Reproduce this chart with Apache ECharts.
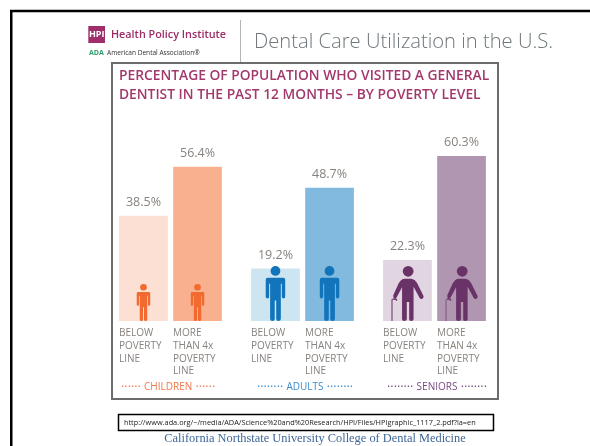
<!DOCTYPE html>
<html>
<head>
<meta charset="utf-8">
<style>html,body{margin:0;padding:0;background:#fff}#c{width:590px;height:446px}</style>
<script src="https://cdn.jsdelivr.net/npm/echarts@6/dist/echarts.min.js"></script>
</head>
<body>
<div id="c"></div>
<script>
var groups = ['CHILDREN', 'ADULTS', 'SENIORS'];
var belowValues = [38.5, 19.2, 22.3];
var moreValues = [56.4, 48.7, 60.3];
var belowLines = ['BELOW', 'POVERTY', 'LINE', ' '];
var moreLines = ['MORE', 'THAN 4x', 'POVERTY', 'LINE'];
var dotCounts = [6, 8, 8];
var belowColors = ['#fbe0d3', '#cde4f1', '#e0d5e0'];
var moreColors = ['#f9b08f', '#82b9de', '#b096b0'];
var iconColors = ['#f26a30', '#1275bb', '#6a3368'];
var groupColors = ['#f4774a', '#3d8bcb', '#7a4a85'];
var chartTitle = 'PERCENTAGE OF POPULATION WHO VISITED A GENERAL\nDENTIST IN THE PAST 12 MONTHS – BY POVERTY LEVEL';
var pageTitle = 'Dental Care Utilization in the U.S.';
var sourceUrl = 'http://www.ada.org/~/media/ADA/Science%20and%20Research/HPI/Files/HPIgraphic_1117_2.pdf?la=en';
var footer = 'California Northstate University College of Dental Medicine';

var personPath = 'path://M30 10A10 10 0 1 1 10 10A10 10 0 1 1 30 10ZM4 24H36Q40 24 40 28V62Q40 66 36.5 66Q33 66 33 62V36H31V108Q31 112 26 112Q21.5 112 21.5 108V70H18.5V108Q18.5 112 14 112Q9 112 9 108V36H7V62Q7 66 3.5 66Q0 66 0 62V28Q0 24 4 24Z';
var seniorPath = 'path://M66 16A16 16 0 1 1 34 16A16 16 0 1 1 66 16ZM38 38Q28 40 22 52L6 88Q4 95 10 97Q15 98 17 92L32 64V160Q32 165 38.5 165Q46 165 46 160V108H53V160Q53 165 59 165Q66 165 66 160V62L84 96Q87 100 92 98Q98 94 95 89L76 50Q70 40 60 38ZM0 165H4.5V105Q4.5 101 7 101H10Q14 101 15 104H18Q18 98 13 97H8Q0 97 0 104Z';
var iconSymbols = [personPath, personPath, seniorPath];
var iconSizes = [[13.5, 37], [19.5, 55], [32.5, 55]];
var caneColor = '#8f6a93';

var barW = 48.7, gapPct = '11%';

function iconFill(i) {
  if (i !== 2) return iconColors[i];
  return new echarts.graphic.LinearGradient(0, 0, 1, 0, [
    { offset: 0, color: caneColor }, { offset: 0.055, color: caneColor },
    { offset: 0.055, color: iconColors[i] }, { offset: 1, color: iconColors[i] }
  ]);
}
function iconData(values) {
  return values.map(function (v, i) {
    return { value: v, symbol: iconSymbols[i], symbolSize: iconSizes[i], itemStyle: { color: iconFill(i) } };
  });
}
function barData(values, colors) {
  return values.map(function (v, i) { return { value: v, itemStyle: { color: colors[i] } }; });
}
function dots(n) { return new Array(n + 1).join('·'); }

var rich = {
  a: { width: 54, align: 'left', fontSize: 10, color: '#87827e', lineHeight: 12.7, fontFamily: 'Open Sans' },
  b: { width: 54, align: 'left', fontSize: 10, color: '#87827e', lineHeight: 12.7, fontFamily: 'Open Sans' }
};
groups.forEach(function (g, i) {
  rich['g' + i] = { fontSize: 10, color: groupColors[i], lineHeight: 19, fontFamily: 'Open Sans' };
  rich['d' + i] = { fontSize: 12.5, color: groupColors[i], lineHeight: 19, fontFamily: 'Open Sans' };
});

function valueLabel() {
  return { show: true, position: 'top', distance: 7, formatter: function (p) { return p.value.toFixed(1) + '%'; },
    fontSize: 12.5, color: '#87827e', fontFamily: 'Open Sans' };
}

var option = {
  animation: false,
  backgroundColor: '#fff',
  title: [{
    text: chartTitle, left: 114, top: 62,
    textStyle: { fontSize: 13.8, lineHeight: 18.5, fontWeight: 600, color: '#a3386c', fontFamily: 'Open Sans' }
  }],
  grid: { left: 104.5, width: 396, top: 129.5, height: 191.5, containLabel: false },
  xAxis: {
    type: 'category', data: groups,
    axisLine: { show: false }, axisTick: { show: false },
    axisLabel: {
      interval: 0, margin: 6, padding: [0, 0, 0, 5], rich: rich,
      formatter: function (g, idx) {
        var rows = belowLines.map(function (l, r) { return '{a|' + l + '}{b|' + moreLines[r] + '}'; });
        var d = dots(dotCounts[idx]);
        var tail = idx === 0 ? '\u00a0\u00a0\u00a0' : '';
        rows.push('{d' + idx + '|' + d + ' }{g' + idx + '|' + g + '}{d' + idx + '| ' + d + tail + '}');
        return rows.join('\n');
      }
    }
  },
  yAxis: { type: 'value', min: 0, max: 70, show: false },
  series: [
    { name: 'Below poverty line', type: 'bar', barWidth: barW, barGap: gapPct, data: barData(belowValues, belowColors), label: valueLabel() },
    { name: 'More than 4x poverty line', type: 'bar', barWidth: barW, barGap: gapPct, data: barData(moreValues, moreColors), label: valueLabel() },
    { name: 'Below icon', type: 'pictorialBar', barWidth: barW, barGap: gapPct, symbolPosition: 'start', silent: true, z: 5, data: iconData(belowValues) },
    { name: 'More icon', type: 'pictorialBar', barWidth: barW, barGap: gapPct, symbolPosition: 'start', silent: true, z: 5, data: iconData(moreValues) }
  ],
  graphic: [
    { type: 'rect', shape: { x: 11.25, y: 11, width: 600, height: 460 }, style: { fill: 'none', stroke: '#000', lineWidth: 2.5 } },
    { type: 'line', shape: { x1: 240.5, y1: 20, x2: 240.5, y2: 63 }, style: { stroke: '#b5b5b5', lineWidth: 1 } },
    { type: 'rect', shape: { x: 112, y: 63, width: 386, height: 336 }, style: { fill: 'none', stroke: '#6c6c6c', lineWidth: 2 } },
    { type: 'rect', shape: { x: 88.3, y: 26, width: 16.7, height: 17 }, style: { fill: '#9e2f6a' } },
    { type: 'text', x: 96.7, y: 34.5, style: { text: 'HPI', fill: '#fff', font: 'bold 9px "Open Sans"', align: 'center', verticalAlign: 'middle' } },
    { type: 'text', x: 111, y: 35, style: { text: 'Health Policy Institute', fill: '#9b2c66', font: '600 10.8px "Open Sans"', verticalAlign: 'middle' } },
    { type: 'text', x: 89, y: 53, style: { text: 'ADA', fill: '#2e9e6b', font: 'bold 7px "Open Sans"', verticalAlign: 'middle' } },
    { type: 'text', x: 107, y: 53, style: { text: 'American Dental Association®', fill: '#333', font: '6.55px "Open Sans"', verticalAlign: 'middle' } },
    { type: 'text', x: 254, y: 42, style: { text: pageTitle, fill: '#6f777c', font: '300 20.2px "Open Sans"', verticalAlign: 'middle' } },
    { type: 'rect', shape: { x: 118.5, y: 414.5, width: 375, height: 16 }, style: { fill: '#fff', stroke: '#000', lineWidth: 1.5 } },
    { type: 'text', x: 124, y: 422.5, style: { text: sourceUrl, fill: '#222', font: '7.35px "Open Sans"', verticalAlign: 'middle' } },
    { type: 'text', x: 315, y: 439, style: { text: footer, fill: '#3f6797', font: '12.4px "Liberation Serif"', align: 'center', verticalAlign: 'middle' } }
  ]
};
var chart = echarts.init(document.getElementById('c'), null, { renderer: 'canvas' });
chart.setOption(option);
</script>
</body>
</html>
